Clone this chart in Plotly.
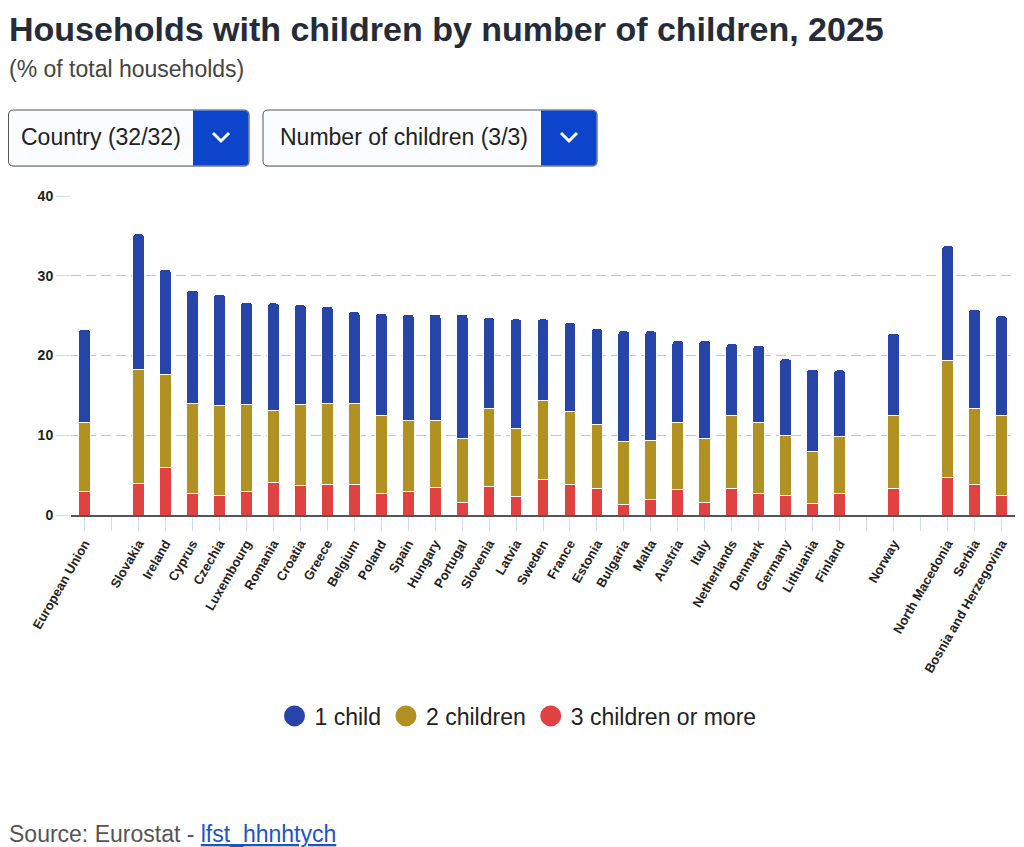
import plotly.graph_objects as go

# x slots: blanks are the spacer columns between groups
countries = ["European Union", " ", "Slovakia", "Ireland", "Cyprus", "Czechia", "Luxembourg",
             "Romania", "Croatia", "Greece", "Belgium", "Poland", "Spain", "Hungary", "Portugal",
             "Slovenia", "Latvia", "Sweden", "France", "Estonia", "Bulgaria", "Malta", "Austria",
             "Italy", "Netherlands", "Denmark", "Germany", "Lithuania", "Finland", "  ", "Norway",
             "   ", "North Macedonia", "Serbia", "Bosnia and Herzegovina"]

one_child = [11.7, None, 17.0, 13.2, 14.2, 14.0, 12.9, 13.5, 12.6, 12.2, 11.5, 12.8, 13.4, 13.4, 15.6,
             11.4, 13.7, 10.3, 11.2, 12.0, 13.9, 13.7, 10.3, 12.3, 9.0, 9.7, 9.6, 10.3, 8.4, None, 10.3,
             None, 14.4, 12.4, 12.5]
two_children = [8.7, None, 14.3, 11.6, 11.3, 11.2, 10.9, 9.0, 10.1, 10.2, 10.2, 9.8, 8.9, 8.3, 8.0,
                9.8, 8.6, 9.8, 9.2, 8.1, 7.9, 7.4, 8.4, 8.0, 9.2, 8.9, 7.5, 6.6, 7.1, None, 9.2,
                None, 14.7, 9.6, 10.0]
three_plus = [2.9, None, 4.0, 6.0, 2.7, 2.5, 2.9, 4.1, 3.7, 3.8, 3.8, 2.7, 2.9, 3.5, 1.6,
              3.6, 2.3, 4.5, 3.8, 3.3, 1.3, 2.0, 3.2, 1.6, 3.3, 2.7, 2.5, 1.4, 2.7, None, 3.3,
              None, 4.7, 3.8, 2.5]

series_names = ["1 child", "2 children", "3 children or more"]
colors = ["#2744a8", "#b09122", "#e04242"]

FONT = "Liberation Sans, Arial, sans-serif"

# plot area in page pixels (window 1024x847, page body has an 8px margin)
OFF = 8
L, R, T, B = 71, 1015, 196, 515


def px(x):
    return (x - L) / (R - L)


def py(y):
    return (B - y) / (B - T)


def rrect(x0, y0, x1, y1, r):
    # rounded rectangle path, pixel corners converted to paper units
    pts = [f"M{px(x0 + r)},{py(y0)}", f"L{px(x1 - r)},{py(y0)}",
           f"Q{px(x1)},{py(y0)} {px(x1)},{py(y0 + r)}", f"L{px(x1)},{py(y1 - r)}",
           f"Q{px(x1)},{py(y1)} {px(x1 - r)},{py(y1)}", f"L{px(x0 + r)},{py(y1)}",
           f"Q{px(x0)},{py(y1)} {px(x0)},{py(y1 - r)}", f"L{px(x0)},{py(y0 + r)}",
           f"Q{px(x0)},{py(y0)} {px(x0 + r)},{py(y0)}", "Z"]
    return " ".join(pts)


def rrect_right(x0, y0, x1, y1, r):
    # only right corners rounded
    pts = [f"M{px(x0)},{py(y0)}", f"L{px(x1 - r)},{py(y0)}",
           f"Q{px(x1)},{py(y0)} {px(x1)},{py(y0 + r)}", f"L{px(x1)},{py(y1 - r)}",
           f"Q{px(x1)},{py(y1)} {px(x1 - r)},{py(y1)}", f"L{px(x0)},{py(y1)}", "Z"]
    return " ".join(pts)


def chevron(cx, cy):
    return f"M{px(cx - 8)},{py(cy - 4)} L{px(cx)},{py(cy + 4)} L{px(cx + 8)},{py(cy - 4)}"


fig = go.Figure()

# stacked bars, bottom to top
for vals, name, col in [(three_plus, series_names[2], colors[2]),
                        (two_children, series_names[1], colors[1]),
                        (one_child, series_names[0], colors[0])]:
    fig.add_trace(go.Bar(x=countries, y=vals, name=name, marker_color=col,
                         marker_line_color="white", marker_line_width=1, showlegend=False))

# legend entries with round markers
for name, col in zip(series_names, colors):
    fig.add_trace(go.Scatter(x=[None], y=[None], mode="markers", name=name,
                             marker=dict(symbol="circle", size=16, color=col,
                                         line=dict(color=col, width=7))))

fig.update_layout(
    width=1024 - OFF, height=847 - OFF,
    margin=dict(l=L - OFF, r=1024 - R, t=T - OFF, b=847 - B),
    barmode="stack", bargap=0.56, barcornerradius=4,
    plot_bgcolor="white", paper_bgcolor="white",
    font=dict(family=FONT, color="#222"),
    legend=dict(orientation="h", traceorder="normal", x=px(518), xanchor="center",
                y=py(716), yanchor="middle", font=dict(size=23, color="#222"), itemclick=False),
    xaxis=dict(type="category", showline=True, linecolor="#555", linewidth=2,
               ticks="outside", ticklen=14, tickcolor="#d3dbf0", tickwidth=1,
               tickangle=-60, tickfont=dict(size=13, family=FONT, color="#222", weight="bold"),
               showgrid=False, fixedrange=True),
    yaxis=dict(range=[0, 40], tickvals=[0, 10, 20, 30, 40], ticks="outside", ticklen=14,
               tickcolor="#d3dbf0", showgrid=True, gridcolor="#c6c6c6", griddash="10px,5px",
               gridwidth=1, zeroline=False, tickfont=dict(size=14, family=FONT, color="#222", weight="bold"),
               fixedrange=True),
)

# dropdown-like boxes
shapes = []
for x0, x1, xb in [(8.5, 249, 193), (263, 597, 541)]:
    shapes.append(dict(type="path", path=rrect(x0 + 1, 111, x1 + 1, 167, 5), xref="paper", yref="paper",
                       fillcolor="rgba(0,0,0,0.12)", line=dict(width=0), layer="above"))
    shapes.append(dict(type="path", path=rrect(x0, 110, x1, 166, 5), xref="paper", yref="paper",
                       fillcolor="#fbfcff", line=dict(color="#555", width=1), layer="above"))
    shapes.append(dict(type="path", path=rrect_right(xb, 110.5, x1 - 0.5, 165.5, 4.5), xref="paper",
                       yref="paper", fillcolor="#0c45cb", line=dict(width=0), layer="above"))
    shapes.append(dict(type="path", path=chevron((xb + x1) / 2, 137), xref="paper", yref="paper",
                       line=dict(color="white", width=3), layer="above"))
fig.update_layout(shapes=shapes)

annotations = [
    dict(text="<b>Households with children by number of children, 2025</b>", x=px(7), y=py(8),
         xanchor="left", yanchor="top", font=dict(size=34, color="#262b38")),
    dict(text="(% of total households)", x=px(7), y=py(69), xanchor="left", yanchor="middle",
         font=dict(size=23, color="#444")),
    dict(text="Country (32/32)", x=px(19), y=py(137), xanchor="left", yanchor="middle",
         font=dict(size=23, color="#222")),
    dict(text="Number of children (3/3)", x=px(278), y=py(137), xanchor="left", yanchor="middle",
         font=dict(size=23, color="#222")),
    dict(text="Source: Eurostat - <span style='color:#1a56c2'><u>lfst_hhnhtych</u></span>",
         x=px(7), y=py(834), xanchor="left", yanchor="middle", font=dict(size=23, color="#555")),
]
for a in annotations:
    a.update(xref="paper", yref="paper", showarrow=False)
fig.update_layout(annotations=annotations)

fig.write_html("out.html")
